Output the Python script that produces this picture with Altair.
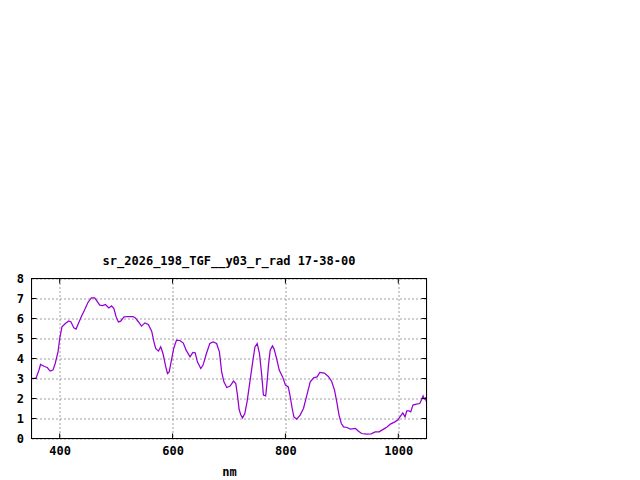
import altair as alt
import pandas as pd

TITLE = "sr_2026_198_TGF__y03_r_rad 17-38-00"
X_TITLE = "nm"

wavelength = [350, 358, 363, 366, 373, 378, 383, 388, 392, 397, 400, 404, 410, 416, 420,
              425, 429, 432, 438, 444, 450, 456, 462, 466, 471, 476, 481, 487, 492, 496,
              500, 504, 508, 514, 521, 530, 534, 539, 545, 551, 557, 563, 567, 570, 575,
              579, 583, 588, 591, 594, 598, 602, 607, 613, 619, 624, 631, 636, 640, 644,
              650, 654, 660, 666, 672, 678, 683, 687, 691, 696, 702, 708, 712, 715, 718,
              721, 724, 728, 732, 737, 742, 746, 750, 754, 758, 761, 765, 767, 770, 773,
              777, 780, 785, 789, 795, 800, 805, 808, 812, 815, 820, 826, 832, 838, 844,
              850, 856, 861, 869, 876, 882, 887, 891, 895, 899, 903, 909, 915, 924, 929,
              935, 944, 952, 959, 966, 974, 980, 986, 994, 999, 1003, 1008, 1012, 1015, 1019,
              1022, 1026, 1032, 1038, 1041, 1044, 1046, 1048, 1050]
radiance = [3.0, 3.02, 3.4, 3.7, 3.6, 3.55, 3.37, 3.42, 3.75, 4.33, 5.0, 5.58, 5.75, 5.88, 5.83,
            5.53, 5.47, 5.67, 6.08, 6.42, 6.8, 7.03, 7.03, 6.87, 6.67, 6.65, 6.7, 6.53, 6.63, 6.5,
            6.08, 5.83, 5.87, 6.08, 6.1, 6.1, 6.03, 5.85, 5.62, 5.78, 5.7, 5.37, 4.83, 4.5, 4.37,
            4.58, 4.25, 3.58, 3.25, 3.33, 3.92, 4.5, 4.92, 4.9, 4.77, 4.42, 4.08, 4.3, 4.28, 3.83,
            3.5, 3.67, 4.25, 4.75, 4.83, 4.75, 4.33, 3.33, 2.83, 2.55, 2.62, 2.87, 2.75, 2.17, 1.45,
            1.17, 1.03, 1.25, 1.83, 2.83, 3.83, 4.58, 4.75, 4.25, 3.17, 2.17, 2.13, 2.67, 3.67, 4.42,
            4.63, 4.47, 3.92, 3.42, 3.08, 2.67, 2.58, 2.17, 1.5, 1.08, 0.97, 1.17, 1.5, 2.17, 2.83,
            3.03, 3.08, 3.3, 3.27, 3.1, 2.85, 2.42, 1.83, 1.17, 0.75, 0.58, 0.55, 0.47, 0.5, 0.38,
            0.25, 0.22, 0.23, 0.33, 0.33, 0.47, 0.58, 0.72, 0.83, 0.92, 1.08, 1.28, 1.08, 1.38, 1.38,
            1.33, 1.67, 1.72, 1.75, 1.92, 2.13, 1.97, 2.03, 1.83]

x_ticks = [400, 600, 800, 1000]
y_ticks = [0, 1, 2, 3, 4, 5, 6, 7, 8]

W, H = 395, 160
FONT = "DejaVu Sans Mono"
TICK = 5

df = pd.DataFrame({"nm": wavelength, "rad": radiance})
xt = pd.DataFrame({"nm": x_ticks})
yt = pd.DataFrame({"rad": y_ticks})

xscale = alt.Scale(domain=[350, 1050], nice=False, zero=False)
yscale = alt.Scale(domain=[0, 8], nice=False, zero=False)

xaxis = alt.Axis(values=x_ticks, grid=True, gridColor="#a0a0a0", gridDash=[2, 2],
                 gridOpacity=1, ticks=False, domain=False, labelFont=FONT,
                 labelFontSize=12, labelFontWeight="bold", labelColor="black",
                 labelPadding=7, labelOverlap=False, titleFont=FONT, titleFontSize=12,
                 titleFontWeight="bold", titleColor="black", titleY=37,
                 titleBaseline="alphabetic", format="d")
yaxis = alt.Axis(values=y_ticks, grid=True, gridColor="#a0a0a0",
                 gridDash=[2, 2], gridOpacity=1, ticks=False, domain=False,
                 labelFont=FONT, labelFontSize=12, labelFontWeight="bold",
                 labelColor="black", labelPadding=8, labelOverlap=False,
                 labelFlush=False, format="d")

X = alt.X("nm:Q", scale=xscale, title=X_TITLE, axis=xaxis)
Y = alt.Y("rad:Q", scale=yscale, title=None, axis=yaxis)

line = alt.Chart(df).mark_line(color="#9400D3", strokeWidth=1.25).encode(x=X, y=Y)

bx = alt.Chart(xt).mark_rule(color="black", strokeWidth=1).encode(
    x=X, y=alt.value(H), y2=alt.value(H - TICK))
tx = alt.Chart(xt).mark_rule(color="black", strokeWidth=1).encode(
    x=X, y=alt.value(0), y2=alt.value(TICK))
ly = alt.Chart(yt).mark_rule(color="black", strokeWidth=1).encode(
    y=Y, x=alt.value(0), x2=alt.value(TICK))
ry = alt.Chart(yt).mark_rule(color="black", strokeWidth=1).encode(
    y=Y, x=alt.value(W - TICK), x2=alt.value(W))

border = [
    alt.Chart(xt).mark_rule(color="black", strokeWidth=1).encode(
        x=alt.value(0), x2=alt.value(W), y=alt.value(0)),
    alt.Chart(xt).mark_rule(color="black", strokeWidth=1).encode(
        x=alt.value(0), x2=alt.value(W), y=alt.value(H)),
    alt.Chart(xt).mark_rule(color="black", strokeWidth=1).encode(
        x=alt.value(0), y=alt.value(0), y2=alt.value(H)),
    alt.Chart(xt).mark_rule(color="black", strokeWidth=1).encode(
        x=alt.value(W), y=alt.value(0), y2=alt.value(H)),
]

chart = alt.layer(line, bx, tx, ly, ry, *border).properties(
    width=W, height=H,
    title=alt.TitleParams(TITLE, font=FONT, fontSize=12, fontWeight="bold", color="black",
                          anchor="middle", baseline="alphabetic", offset=-4),
    autosize=alt.AutoSizeParams(type="none"),
    padding={"left": 23.5, "top": 270.5, "right": 200, "bottom": 40},
).configure_view(stroke=None).configure(background="white")

chart.save("out.html", embed_options={"renderer": "svg", "actions": False})
